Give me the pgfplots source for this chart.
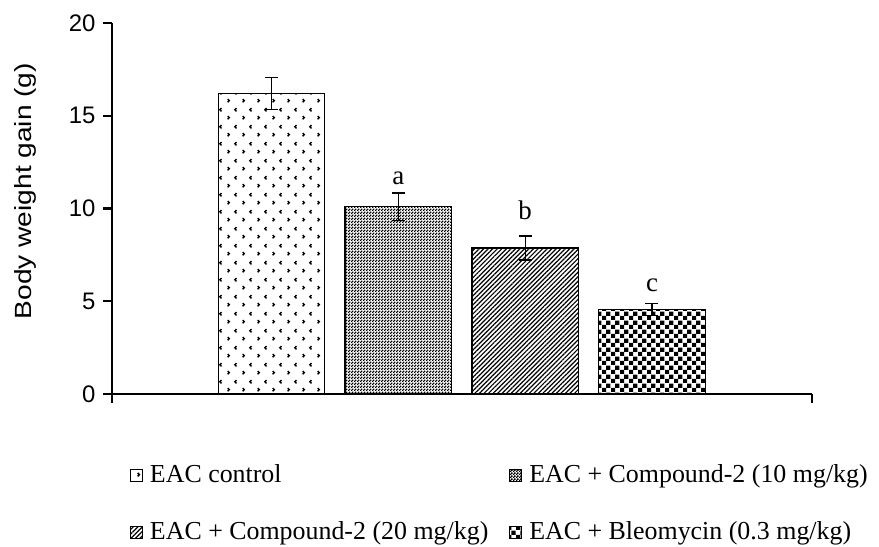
\documentclass[border=0pt]{standalone}
\usepackage{fontspec}
\setmainfont{Liberation Serif}
\newfontfamily\arial{Liberation Sans}
\usepackage{pgfplots}
\pgfplotsset{compat=1.18}
\usetikzlibrary{patterns.meta}

\tikzdeclarepattern{
  name=arrowdots,
  bottom left={(0bp,0bp)}, top right={(15bp,17bp)}, tile size={(15bp,17bp)},
  code={
    \draw[line width=1.5bp] (12.2bp,14.7bp)--(10.5bp,13bp)--(12.2bp,11.3bp);
    \draw[line width=1.5bp] (2.8bp,6.2bp)--(4.5bp,4.5bp)--(2.8bp,2.8bp);
  }
}
\tikzdeclarepattern{
  name=finechecker,
  bottom left={(0bp,0bp)}, top right={(3bp,3bp)}, tile size={(3bp,3bp)},
  code={
    \fill (0bp,0bp) rectangle (1.75bp,1.75bp);
    \fill (1.5bp,1.5bp) rectangle (3.25bp,3.25bp);
  }
}
\tikzdeclarepattern{
  name=coarsechecker,
  bottom left={(0bp,0bp)}, top right={(8.6bp,8.6bp)}, tile size={(8.6bp,8.6bp)},
  code={
    \fill (0bp,0bp) rectangle (4.3bp,4.3bp);
    \fill (4.3bp,4.3bp) rectangle (8.6bp,8.6bp);
  }
}

\begin{document}
\begin{tikzpicture}
\begin{axis}[
  at={(0,0)}, anchor=south west,
  scale only axis, width=700bp, height=371bp,
  xmin=-1.258, xmax=4.262, ymin=0, ymax=20,
  axis x line=bottom, axis y line=left,
  axis line style={-, line width=2.4bp},
  xtick={-1.258,4.262}, xticklabels={},
  ytick={0,5,10,15,20},
  tick align=outside, major tick length=9bp,
  tick style={line width=2.4bp, black},
  /pgf/number format/assume math mode=true,
  yticklabel style={font=\arial\fontsize{24}{28}\selectfont, xshift=-4bp},
  ylabel={\scalebox{1.2}[1]{Body weight gain (g)}},
  ylabel style={font=\arial\fontsize{23.5}{28}\selectfont, at={(axis description cs:-0.124,0.547)}, anchor=center},
  ybar, bar width=0.84, bar shift=0pt,
  clip=false,
  legend columns=2,
  legend cell align=left,
  legend image code/.code={\draw[#1, line width=1bp] (0bp,-6bp) rectangle (12bp,6bp);},
  legend style={draw=none, fill=none, font=\fontsize{26}{31}\selectfont,
    at={(axis description cs:0.0257,-0.1806)}, anchor=north west,
    inner sep=0pt, outer sep=0pt, row sep=28bp,
    nodes={inner sep=2bp, text height=19bp, text depth=6bp},
    /tikz/every odd column/.append style={column sep=5bp},
    /tikz/every even column/.append style={column sep=19bp}},
  error bars/error bar style={line width=1.3bp, black},
]
\addplot[draw=black, line width=1.4bp, pattern=arrowdots, pattern color=black,
  error bars/.cd, y dir=both, y explicit, error mark options={rotate=90, line width=1.3bp, mark size=6.5bp}]
  coordinates {(0,16.2) +- (0,0.85)};
\addlegendentry{EAC control}
\addplot[draw=black, line width=1.4bp, pattern=finechecker, pattern color=black,
  error bars/.cd, y dir=both, y explicit, error mark options={rotate=90, line width=1.3bp, mark size=6.5bp}]
  coordinates {(1,10.1) +- (0,0.73)};
\addlegendentry{EAC + Compound-2 (10 mg/kg)}
\addplot[draw=black, line width=1.4bp, pattern={Lines[angle=45,distance=3.2bp,line width=1.2bp]}, pattern color=black,
  error bars/.cd, y dir=both, y explicit, error mark options={rotate=90, line width=1.3bp, mark size=6.5bp}]
  coordinates {(2,7.87) +- (0,0.65)};
\addlegendentry{EAC + Compound-2 (20 mg/kg)}
\addplot[draw=black, line width=1.4bp, pattern=coarsechecker, pattern color=black,
  error bars/.cd, y dir=both, y explicit, error mark options={rotate=90, line width=1.3bp, mark size=6.5bp}]
  coordinates {(3,4.55) +- (0,0.32)};
\addlegendentry{EAC + Bleomycin (0.3 mg/kg)}
\node[font=\fontsize{27}{32}\selectfont, anchor=base, inner sep=0pt] at (axis cs:1,11.27) {a};
\node[font=\fontsize{27}{32}\selectfont, anchor=base, inner sep=0pt] at (axis cs:2,9.43) {b};
\node[font=\fontsize{27}{32}\selectfont, anchor=base, inner sep=0pt] at (axis cs:3,5.5) {c};
\end{axis}
\pgfresetboundingbox
\path[use as bounding box] (-112bp,-153bp) rectangle (767bp,394bp);
\end{tikzpicture}
\end{document}
